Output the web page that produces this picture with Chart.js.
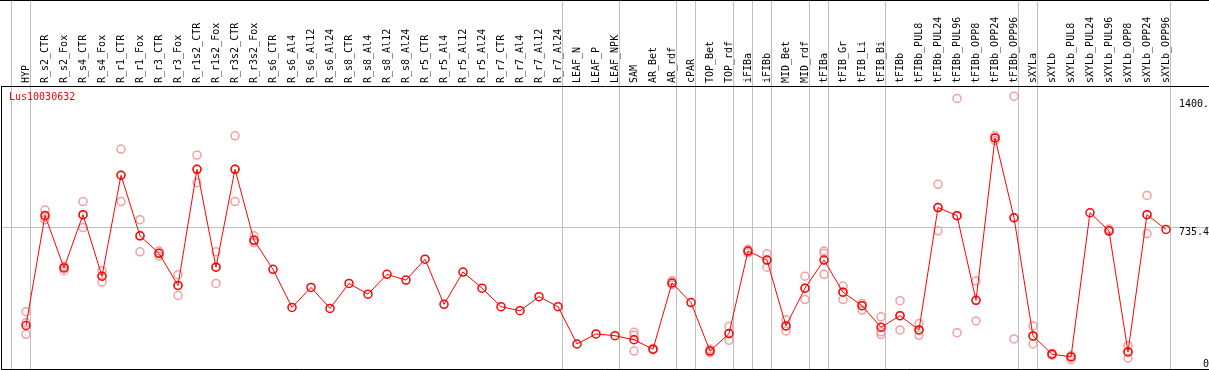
<!DOCTYPE html>
<html>
<head>
<meta charset="utf-8">
<script src="https://cdn.jsdelivr.net/npm/chart.js@4.4.1/dist/chart.umd.min.js"></script>
<style>
  html, body { margin: 0; padding: 0; background: #fff; }
  #wrap { position: relative; width: 1209px; height: 370px; }
  #topline { position: absolute; left: 0; top: 0; width: 1209px; height: 1px; background: #000; }
</style>
</head>
<body>
<div id="wrap">
  <canvas id="exprChart"></canvas>
  <div id="topline"></div>
</div>
<script>
const seriesName = 'Lus10030632';

const categories = [
  'HYP', 'R_s2_CTR', 'R_s2_Fox', 'R_s4_CTR', 'R_s4_Fox', 'R_r1_CTR', 'R_r1_Fox', 'R_r3_CTR', 'R_r3_Fox',
  'R_r1s2_CTR', 'R_r1s2_Fox', 'R_r3s2_CTR', 'R_r3s2_Fox', 'R_s6_CTR', 'R_s6_Al4', 'R_s6_Al12', 'R_s6_Al24',
  'R_s8_CTR', 'R_s8_Al4', 'R_s8_Al12', 'R_s8_Al24', 'R_r5_CTR', 'R_r5_Al4', 'R_r5_Al12', 'R_r5_Al24',
  'R_r7_CTR', 'R_r7_Al4', 'R_r7_Al12', 'R_r7_Al24', 'LEAF_N', 'LEAF_P', 'LEAF_NPK', 'SAM', 'AR_Bet', 'AR_rdf',
  'cPAR', 'TOP_Bet', 'TOP_rdf', 'iFIBa', 'iFIBb', 'MID_Bet', 'MID_rdf', 'tFIBa', 'tFIB_Gr', 'tFIB_Li', 'tFIB_Bi',
  'tFIBb', 'tFIBb_PUL8', 'tFIBb_PUL24', 'tFIBb_PUL96', 'tFIBb_OPP8', 'tFIBb_OPP24', 'tFIBb_OPP96',
  'sXYLa', 'sXYLb', 'sXYLb_PUL8', 'sXYLb_PUL24', 'sXYLb_PUL96', 'sXYLb_OPP8', 'sXYLb_OPP24', 'sXYLb_OPP96'
];

// mean expression (red line)
const meanValues = [
  226, 798, 525, 802, 482, 1007, 692, 601, 434, 1038, 529, 1038, 669,
  518, 320, 424, 315, 445, 389, 492, 462, 571, 336, 504, 420, 324, 303, 376, 324,
  130, 182, 173, 152, 103, 447, 345, 93, 184, 613, 566, 224, 420,
  566, 399, 329, 217, 277, 203, 839, 797, 357, 1201, 786,
  172, 77, 63, 812, 718, 89, 802, 725
];

// replicates (pale circles), null = not shown
const rep1 = [
  298, 826, 534, 870, 511, 1143, 776, 613, 490, 1112, 609, 1212, 692,
  null, null, null, null, null, null, null, null, null, null, null, null, null, null, null, null,
  null, null, null, 191, 106, 459, null, 103, 221, 622, 599, 256, 482,
  613, 431, 341, 271, 355, 236, 960, 1406, 457, 1212, 1418,
  224, 82, 70, null, 728, 121, 902, null
];
const rep2 = [
  240, 790, 525, 801, 482, 1007, 692, 601, 434, 1038, 529, 1038, 669,
  null, null, null, null, null, null, null, null, null, null, null, null, null, null, null, null,
  null, null, null, 175, 103, 447, null, 93, 184, 613, 566, 224, 420,
  601, 399, 329, 193, 277, 203, 839, 797, 357, 1201, 786,
  172, 77, 63, null, 718, 89, 802, null
];
const rep3 = [
  180, 776, 511, 735, 452, 870, 609, 587, 382, 968, 445, 870, 657,
  null, null, null, null, null, null, null, null, null, null, null, null, null, null, null, null,
  null, null, null, 93, 100, 438, null, 84, 149, 604, 529, 198, 361,
  492, 361, 306, 179, 203, 175, 718, 189, 250, 1187, 156,
  130, 72, 49, null, 714, 56, 704, null
];

// grey separators sit just after these category indexes
const groupBreaks = [-1, 0, 28, 31, 34, 35, 37, 38, 39, 41, 42, 45, 52, 53, 60];

const yTickValues = [0, 735.4, 1400];
const yTickLabels = ['0', '735.4', '1400.'];
const yMax = 1470.8;

const sepOffset = 0.24;
const xMin = -25 / 19;
const xMax = 60 + 43 / 19;
const monoFont = { family: 'DejaVu Sans Mono', size: 10 };
const gridGrey = '#c0c0c0';

const isBreak = (v) => groupBreaks.some(b => Math.abs(b + sepOffset - v) < 1e-6);

// no extra layout padding from the axes
const noPad = (axis) => {
  axis.paddingLeft = 0;
  axis.paddingRight = 0;
  axis.paddingTop = 0;
  axis.paddingBottom = 0;
};

const linePoints = meanValues.map((v, i) => ({ x: i, y: v }));
const repPoints = [];
[rep1, rep2, rep3].forEach(rep => {
  rep.forEach((v, i) => { if (v !== null) repPoints.push({ x: i, y: v }); });
});

// series name in the upper left corner of the plot
const nameLabel = {
  id: 'nameLabel',
  afterDraw(chart) {
    const { ctx, chartArea } = chart;
    ctx.save();
    ctx.font = '10px "DejaVu Sans Mono"';
    ctx.fillStyle = '#ff0000';
    ctx.textBaseline = 'middle';
    ctx.fillText(seriesName, chartArea.left + 8, chartArea.top + 11);
    ctx.restore();
  },
};

const ctx = document.getElementById('exprChart').getContext('2d');
new Chart(ctx, {
  type: 'line',
  data: {
    datasets: [
      {
        label: seriesName,
        data: linePoints,
        borderColor: '#ff0000',
        borderWidth: 1,
        tension: 0,
        pointRadius: 4,
        pointBorderWidth: 1.5,
        pointBorderColor: '#ff0000',
        pointBackgroundColor: 'rgba(0,0,0,0)',
        order: 1,
      },
      {
        label: 'replicates',
        data: repPoints,
        showLine: false,
        pointRadius: 4,
        pointBorderWidth: 1.5,
        pointBorderColor: '#f0a0a0',
        pointBackgroundColor: 'rgba(0,0,0,0)',
        order: 2,
      },
    ],
  },
  options: {
    responsive: true,
    maintainAspectRatio: false,
    animation: false,
    layout: { autoPadding: false, padding: { left: 1, right: 0, top: 0, bottom: 1 } },
    plugins: {
      tooltip: { enabled: false },
      legend: { display: false },
    },
    scales: {
      x: {
        type: 'linear',
        position: 'bottom',
        min: xMin,
        max: xMax,
        afterFit: (axis) => { axis.height = 0; noPad(axis); },
        ticks: { display: false },
        grid: { display: false, drawTicks: false },
        border: { display: true, color: '#000' },
      },
      x2: {
        type: 'linear',
        position: 'top',
        min: xMin,
        max: xMax,
        afterBuildTicks: (axis) => {
          const t = categories.map((c, i) => ({ value: i }));
          groupBreaks.forEach(b => t.push({ value: b + sepOffset }));
          t.sort((a, b) => a.value - b.value);
          axis.ticks = t;
        },
        afterFit: (axis) => { axis.height = 86; noPad(axis); },
        ticks: {
          autoSkip: false,
          minRotation: 90,
          maxRotation: 90,
          padding: -83,
          labelOffset: 12,
          color: '#000',
          font: monoFont,
          callback: (v) => Number.isInteger(v) ? categories[v] : '',
        },
        grid: {
          tickLength: 86,
          color: (c) => (c.tick && isBreak(c.tick.value)) ? gridGrey : 'rgba(0,0,0,0)',
        },
        border: { display: true, color: '#000' },
      },
      y: {
        type: 'linear',
        position: 'right',
        min: 0,
        max: yMax,
        afterBuildTicks: (axis) => { axis.ticks = [{ value: yTickValues[1] }, { value: yTickValues[2] }]; },
        afterFit: (axis) => { axis.width = 0; noPad(axis); },
        ticks: {
          mirror: true,
          padding: 0,
          align: 'start',
          color: '#000',
          font: monoFont,
          callback: (v) => yTickLabels[yTickValues.indexOf(v)],
        },
        grid: {
          drawTicks: false,
          color: (c) => (c.tick && c.tick.value === yTickValues[1]) ? gridGrey : 'rgba(0,0,0,0)',
        },
        border: { display: false },
      },
      y0: {
        type: 'linear',
        position: 'right',
        min: 0,
        max: yMax,
        afterBuildTicks: (axis) => { axis.ticks = [{ value: yTickValues[0] }]; },
        afterFit: (axis) => { axis.width = 0; noPad(axis); },
        ticks: {
          mirror: true,
          padding: 0,
          align: 'end',
          color: '#000',
          font: monoFont,
          callback: () => yTickLabels[0],
        },
        grid: { display: false, drawTicks: false },
        border: { display: false },
      },
      yl: {
        type: 'linear',
        position: 'left',
        min: 0,
        max: yMax,
        afterFit: (axis) => { axis.width = 0; noPad(axis); },
        ticks: { display: false },
        grid: { display: false, drawTicks: false },
        border: { display: true, color: '#000' },
      },
    },
  },
  plugins: [nameLabel],
});
</script>
</body>
</html>
